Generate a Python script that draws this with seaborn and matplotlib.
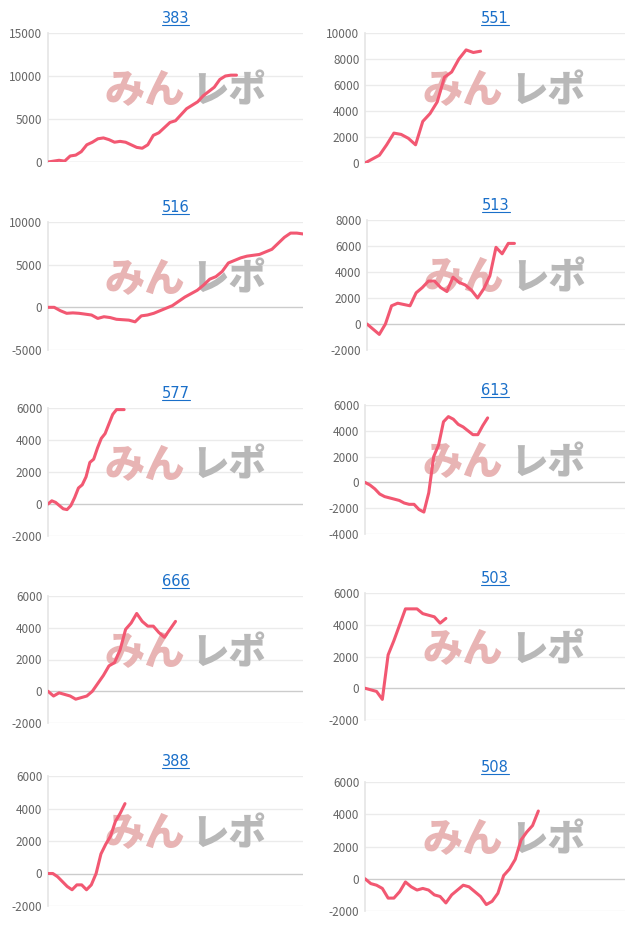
import matplotlib
matplotlib.use("Agg")
import matplotlib.pyplot as plt
import seaborn as sns
import numpy as np
import pandas as pd

sns.set_theme(style="white")
plt.rcParams['font.family'] = ['Noto Sans CJK JP', 'DejaVu Sans']

titles = ["383", "551", "516", "513", "577", "613", "666", "503", "388", "508"]

s383 = [0, 100, 200, 100, 700, 800, 1200, 2000, 2300, 2700, 2800, 2600, 2300, 2400, 2300, 2000, 1700,
        1600, 2000, 3100, 3400, 4000, 4600, 4800, 5500, 6200, 6600, 7000, 7700, 8200, 8700, 9600, 10000, 10100, 10100]
s551 = [0, 300, 600, 1400, 2300, 2200, 1900, 1400, 3200, 3800, 4700, 6600, 7000, 8000, 8700, 8500, 8600]
s516 = [0, 0, -400, -700, -650, -700, -800, -900, -1300, -1100, -1200, -1400, -1450, -1500, -1700, -1000, -900,
        -700, -400, -100, 200, 700, 1200, 1600, 2000, 2600, 3300, 3600, 4200, 5200, 5500, 5800, 6000, 6100, 6200,
        6500, 6800, 7500, 8200, 8700, 8700, 8600]
s513 = [0, -400, -800, 0, 1400, 1600, 1500, 1400, 2400, 2800, 3300, 3300, 2800, 2500, 3600, 3200, 3000, 2600,
        2000, 2700, 3700, 5900, 5400, 6200, 6200]
s577 = [0, 200, 100, -100, -300, -350, -100, 400, 1000, 1200, 1700, 2600, 2800, 3500, 4100, 4400, 5000, 5600,
        5900, 5900, 5900]
s613 = [0, -200, -500, -900, -1100, -1200, -1300, -1400, -1600, -1700, -1700, -2100, -2300, -800, 2000, 2900,
        4700, 5100, 4900, 4500, 4300, 4000, 3700, 3700, 4400, 5000]
s666 = [0, -300, -100, -200, -300, -500, -400, -300, 0, 500, 1000, 1600, 1800, 2600, 3900, 4300, 4900, 4400,
        4100, 4100, 3700, 3400, 3900, 4400]
s503 = [0, -100, -200, -700, 2100, 3000, 4000, 5000, 5000, 5000, 4700, 4600, 4500, 4100, 4400]
s388 = [0, 0, -200, -500, -800, -1000, -700, -700, -1000, -700, 0, 1200, 1800, 2300, 3200, 3700, 4300]
s508 = [0, -300, -400, -600, -1200, -1200, -800, -200, -500, -700, -600, -700, -1000, -1100, -1500, -1000,
        -700, -400, -500, -800, -1100, -1600, -1400, -900, 200, 600, 1200, 2400, 2900, 3300, 4200]
series = [s383, s551, s516, s513, s577, s613, s666, s503, s388, s508]
slots = [46, 36, 41, 42, 67, 53, 46, 45, 53, 45]
ymins = [0, 0, -5000, -2000, -2000, -4000, -2000, -2000, -2000, -2000]
ymaxs = [15000, 10000, 10000, 8000, 6000, 6000, 6000, 6000, 6000, 6000]
ysteps = [5000, 2000, 5000, 2000, 2000, 2000, 2000, 2000, 2000, 2000]

W, H = 640, 931
fig = plt.figure(figsize=(6.4, 9.31), dpi=100)
boxes = [(48, 303, 33, 162), (365, 625, 33, 163),
         (48, 303, 222, 350), (367, 625, 220, 350),
         (48, 303, 408, 536), (365, 625, 405, 534),
         (48, 303, 596, 723), (365, 625, 593, 720),
         (48, 303, 776, 906), (365, 625, 782, 911)]

for i, (l, r, t, b) in enumerate(boxes):
    ax = fig.add_axes([l / W, 1 - b / H, (r - l) / W, (b - t) / H])
    df = pd.DataFrame({"x": np.arange(len(series[i])), "y": series[i]})
    ticks = np.arange(ymins[i], ymaxs[i] + 1, ysteps[i])
    for tv in ticks:
        ax.axhline(tv, color="#cccccc" if tv == 0 else "#ebebeb", lw=1, zorder=0)
    ax.text(0.22, 0.55, "みん", transform=ax.transAxes, fontsize=29, fontweight="black",
            color="#e8b4b4", va="center", ha="left", zorder=1)
    ax.text(0.56, 0.55, "レポ", transform=ax.transAxes, fontsize=27, fontweight="black",
            color="#b8b8b8", va="center", ha="left", zorder=1)
    sns.lineplot(data=df, x="x", y="y", ax=ax, color="#f25872", lw=2.2, zorder=3)
    ax.set_xlim(0, slots[i])
    ax.set_ylim(ymins[i], ymaxs[i])
    ax.set_yticks(ticks)
    ax.set_yticklabels([str(v) for v in ticks], fontsize=8.5, color="#666666")
    ax.tick_params(axis="y", length=0, pad=4)
    ax.set_xticks([])
    ax.set_xlabel("")
    ax.set_ylabel("")
    for s in ["top", "right", "bottom"]:
        ax.spines[s].set_visible(False)
    ax.spines["left"].set_color("#e6e6e6")
    ax.set_title(titles[i], fontsize=10.5, color="#1a6fc9", pad=7)
    ax.title.set_fontfamily(['DejaVu Sans'])

fig.canvas.draw()
renderer = fig.canvas.get_renderer()
for ax in fig.axes:
    bb = ax.title.get_window_extent(renderer)
    y = bb.y0 + 1
    fig.add_artist(plt.Line2D([bb.x0 / W, bb.x1 / W], [y / H] * 2, color="#1a6fc9", lw=0.8))

fig.savefig("out.png", dpi=100, facecolor="white")
